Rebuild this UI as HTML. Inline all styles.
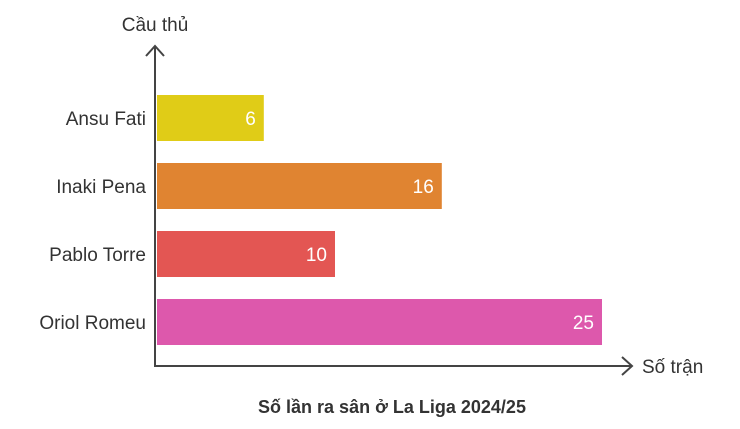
<!DOCTYPE html>
<html><head><meta charset="utf-8"><style>
body{margin:0;background:#fff;width:740px;height:424px;overflow:hidden;font-family:"Liberation Sans",sans-serif}
</style></head><body>
<svg id="chart" width="740" height="424" xmlns="http://www.w3.org/2000/svg" font-family="Liberation Sans, sans-serif">
<g id="bars"></g>
<line x1="155" y1="366" x2="155" y2="46" stroke="#444" stroke-width="2"/>
<polyline points="146,56 155,46 164,56" fill="none" stroke="#444" stroke-width="2"/>
<line x1="154" y1="366" x2="632" y2="366" stroke="#444" stroke-width="2"/>
<polyline points="622,357 632,366 622,375" fill="none" stroke="#444" stroke-width="2"/>
<text x="155" y="31" font-size="19" fill="#333" text-anchor="middle">Cầu thủ</text>
<text x="642" y="373" font-size="19" fill="#333">Số trận</text>
<text x="392" y="413" font-size="18" font-weight="bold" fill="#333" text-anchor="middle">Số lần ra sân ở La Liga 2024/25</text>
</svg>
<script>
const categories=["Ansu Fati","Inaki Pena","Pablo Torre","Oriol Romeu"];
const values=[6,16,10,25];
const colors=["#e0cc17","#e08431","#e35653","#dd58ac"];
const x0=157, pxPerUnit=17.8, top0=95, step=68, barH=46;
function xs(v){return x0+v*pxPerUnit;}
function ys(i){return top0+i*step;}
const g=document.getElementById('bars');
const ns="http://www.w3.org/2000/svg";
categories.forEach((c,i)=>{
  const r=document.createElementNS(ns,'rect');
  
  
  r.setAttribute('x',x0);r.setAttribute('y',ys(i));
  r.setAttribute('width',xs(values[i])-x0);r.setAttribute('height',barH);
  r.setAttribute('fill',colors[i]);g.appendChild(r);
  const v=document.createElementNS(ns,'text');
  
  
  v.setAttribute('x',xs(values[i])-8);v.setAttribute('y',ys(i)+barH/2+7);
  v.setAttribute('text-anchor','end');v.setAttribute('font-size','19');v.setAttribute('fill','#fff');
  v.textContent=values[i];g.appendChild(v);
  const l=document.createElementNS(ns,'text');
  
  
  l.setAttribute('x',146);l.setAttribute('y',ys(i)+barH/2+7);
  l.setAttribute('text-anchor','end');l.setAttribute('font-size','19');l.setAttribute('fill','#333');
  l.textContent=c;g.appendChild(l);
});
</script>
</body></html>
